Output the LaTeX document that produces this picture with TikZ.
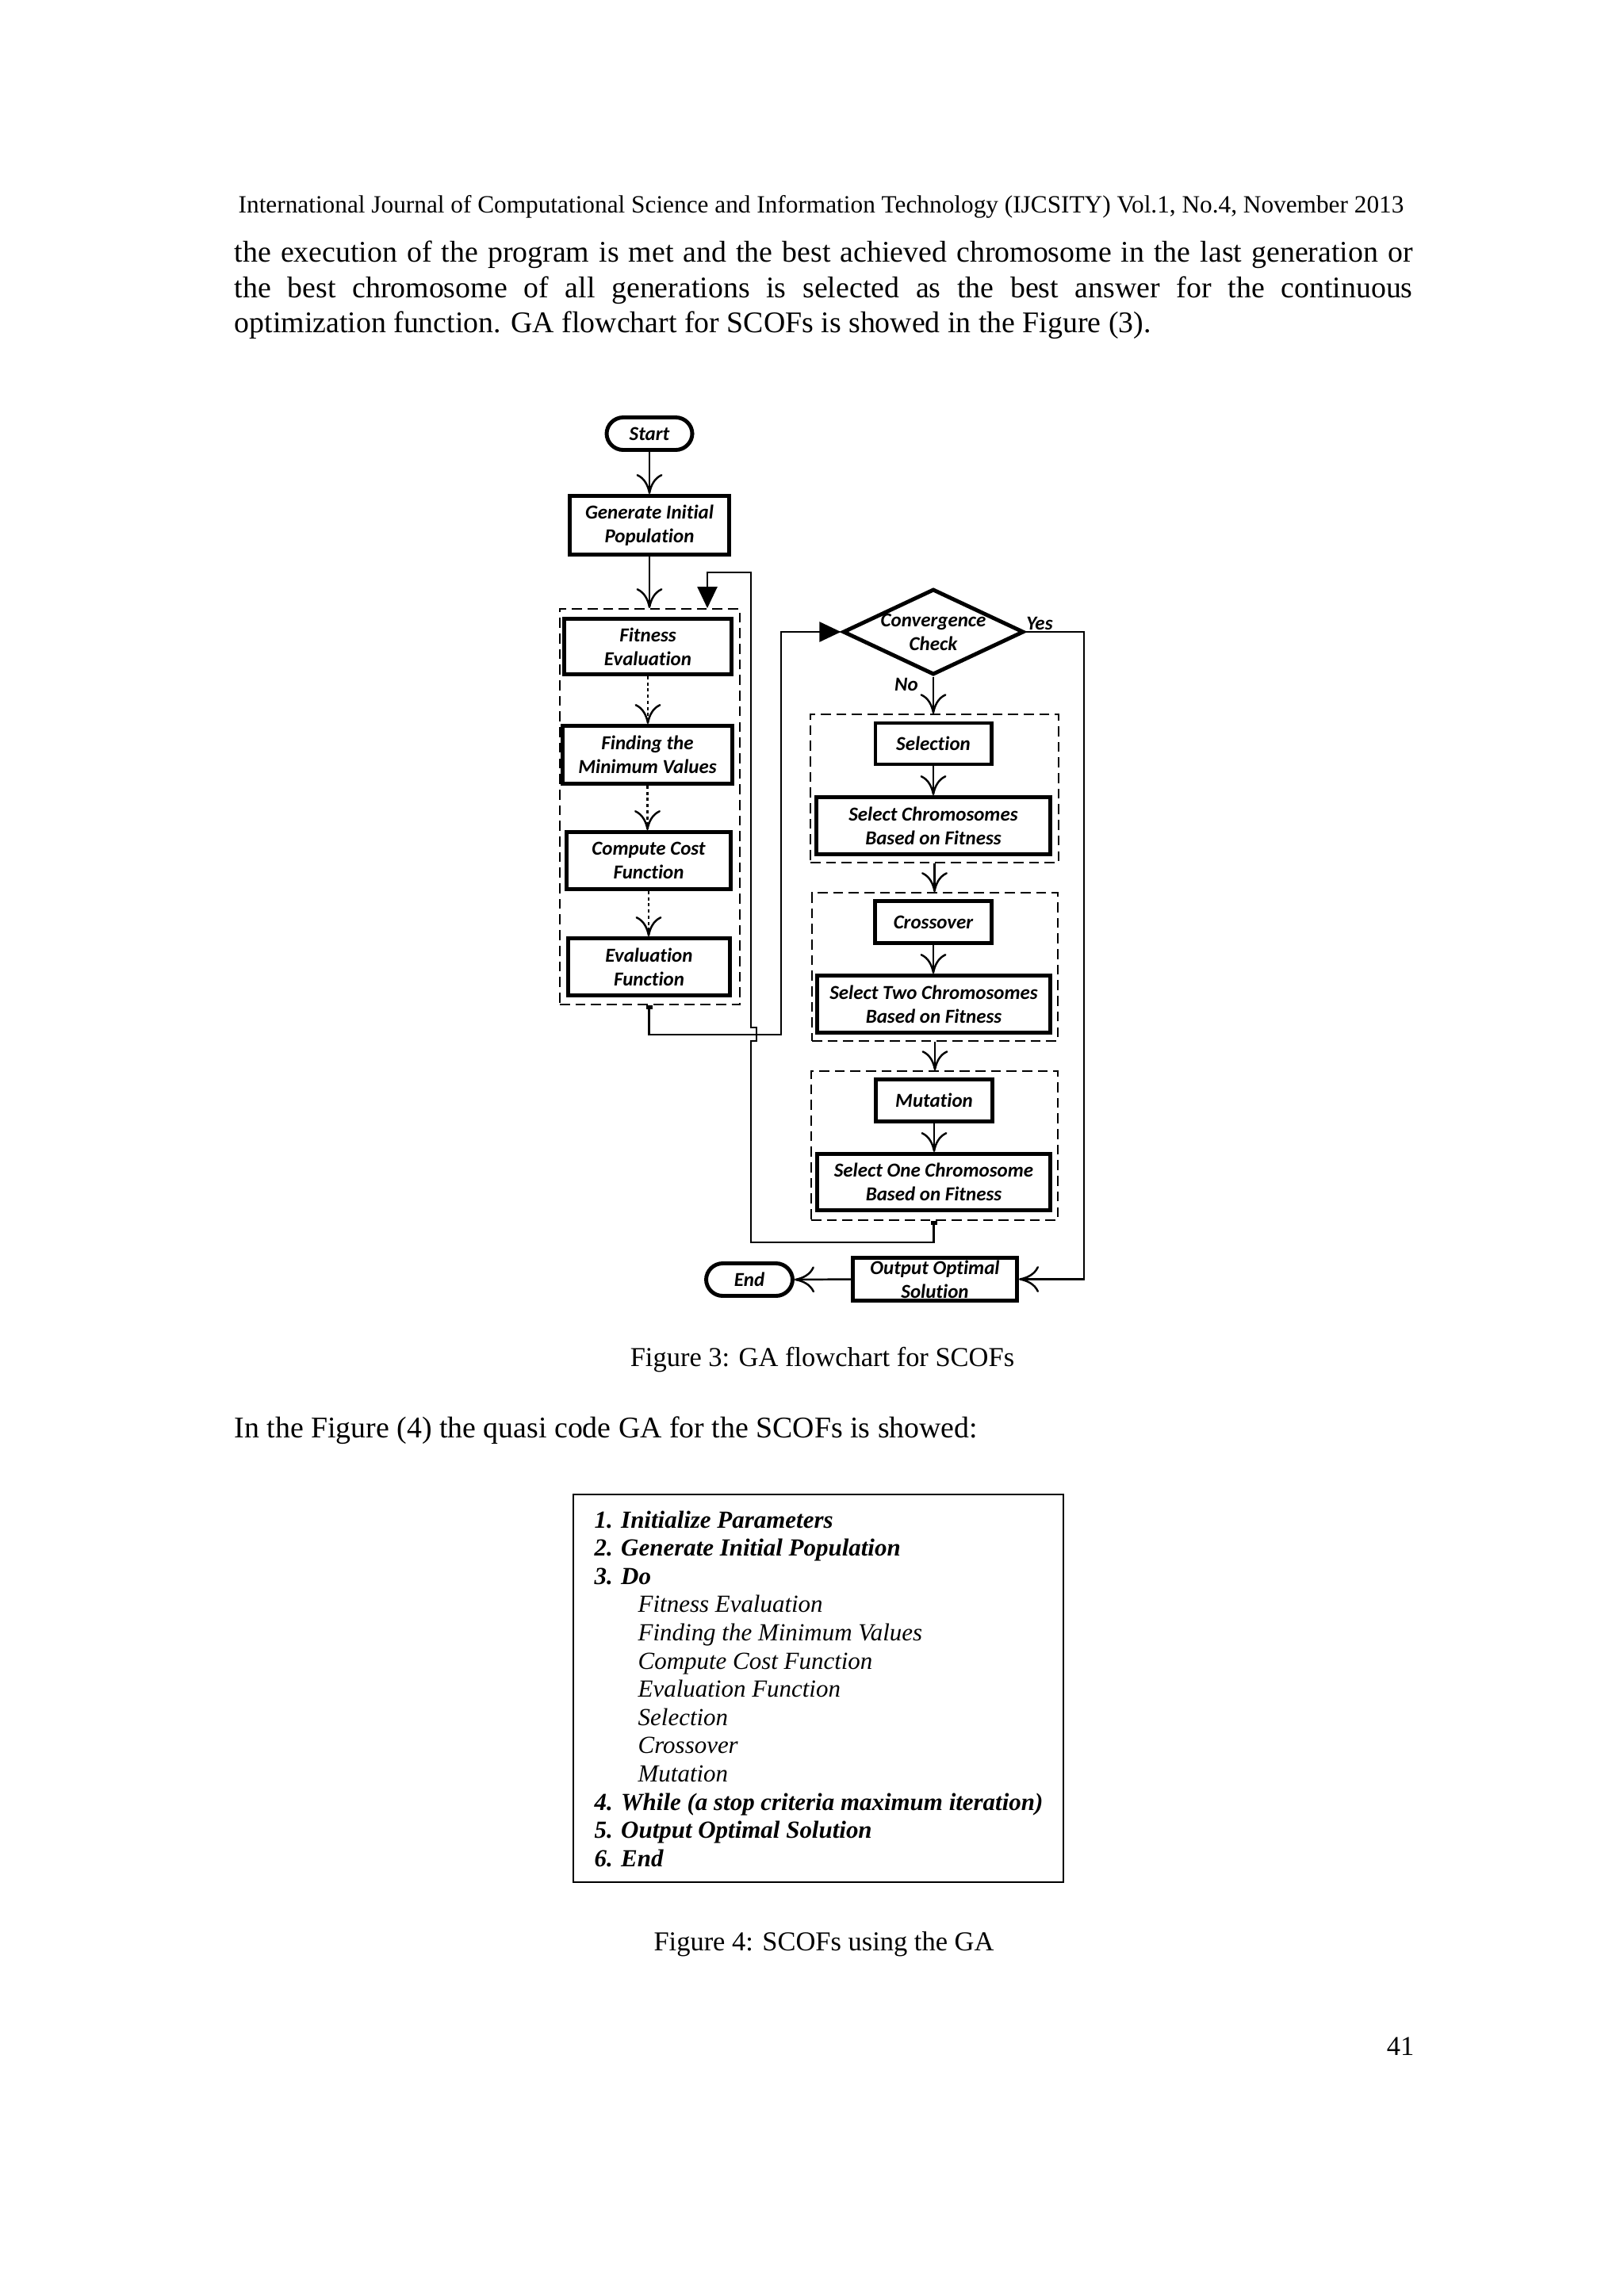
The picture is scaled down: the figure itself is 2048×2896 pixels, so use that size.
\documentclass[tikz,border=0pt]{standalone}
\usepackage{fontspec}
\setmainfont{Liberation Serif}
\newfontfamily\chartfont[Ligatures=NoCommon]{Carlito}
\usepackage{tikz}
\usetikzlibrary{arrows.meta,shapes.geometric,positioning}
\newcommand{\txtbody}{\fontsize{10.76pt}{12.7pt}\selectfont}
\newcommand{\txtcap}{\fontsize{9.8pt}{11.5pt}\selectfont}
\newcommand{\txtcode}{\itshape\fontsize{8.8pt}{10.1pt}\selectfont}
\tikzstyle{centered} = [align=center, text centered, inner sep=0pt, font=\chartfont\bfseries\itshape\fontsize{7.1pt}{8.5pt}\selectfont]
\tikzstyle{process} = [centered, draw, line width=1.4pt]
\tikzstyle{terminal} = [process, rounded corners=0.21cm, minimum width=1.08cm, minimum height=0.41cm]
\tikzstyle{decision} = [draw, diamond, line width=1.4pt, inner sep=0pt, minimum width=2.28cm, minimum height=1.08cm]
\tikzstyle{group} = [draw, dash pattern=on 3.6pt off 2pt, line width=0.45pt, inner sep=0pt]
\tikzstyle{flow} = [line width=0.7pt, -{Computer Modern Rightarrow[length=0.25cm,width=0.33cm]}]
\tikzstyle{dotflow} = [flow, dash pattern=on 1.1pt off 1.1pt]
\tikzstyle{loop} = [line width=0.7pt, {Square[length=0.05cm,width=0.08cm]}-{Triangle[length=0.27cm,width=0.25cm]}]
\tikzstyle{page} = [inner sep=0pt, anchor=base west]

\begin{document}
\begin{tikzpicture}[x=0.01cm,y=-0.01cm]
    \useasboundingbox (0,0) rectangle (2048,2896);
    \fill[white] (0,0) rectangle (2048,2896);

    % page text
    \node[page, font=\fontsize{8.9pt}{10.5pt}\selectfont] (header) at (300,268) {International Journal of Computational Science and Information Technology (IJCSITY) Vol.1, No.4, November 2013};
    \node[page, font=\txtbody] (para1) at (295,330) {\makebox[14.85cm][s]{the execution of the program is met and the best achieved chromosome in the last generation or}};
    \node[page, font=\txtbody] (para2) at (295,375) {\makebox[14.85cm][s]{the best chromosome of all generations is selected as the best answer for the continuous}};
    \node[page, font=\txtbody] (para3) at (295,419) {optimization function. GA flowchart for SCOFs is showed in the Figure (3).};

    % left column
    \node[terminal] (start) at (819,547) {Start};
    \node[process, minimum width=2.01cm, minimum height=0.74cm] (init) at (819,662.5) {Generate Initial\\Population};
    \node[group, minimum width=2.27cm, minimum height=4.99cm] (grpA) at (819.5,1017.5) {};
    \node[process, minimum width=2.11cm, minimum height=0.70cm] (fit) at (817,815.5) {Fitness\\Evaluation};
    \node[process, minimum width=2.14cm, minimum height=0.73cm] (findmin) at (816.5,952) {Finding the\\Minimum Values};
    \node[process, minimum width=2.07cm, minimum height=0.72cm] (cost) at (818,1085.5) {Compute Cost\\Function};
    \node[process, minimum width=2.04cm, minimum height=0.72cm] (evalf) at (818.5,1219.5) {Evaluation\\Function};

    % right column
    \node[decision, label={[centered]center:Convergence\\Check}] (conv) at (1177,797) {};
    \node[centered, anchor=base] (yes) at (1311,794) {Yes};
    \node[centered, anchor=base] (no) at (1143,871) {No};
    \node[group, minimum width=3.13cm, minimum height=1.87cm] (grpB) at (1178.5,994.5) {};
    \node[process, minimum width=1.46cm, minimum height=0.52cm] (sel) at (1177,938) {Selection};
    \node[process, minimum width=2.95cm, minimum height=0.72cm] (selc) at (1177,1041.5) {Select Chromosomes\\Based on Fitness};
    \node[group, minimum width=3.10cm, minimum height=1.87cm] (grpC) at (1179,1219.5) {};
    \node[process, minimum width=1.47cm, minimum height=0.53cm] (cross) at (1177,1163) {Crossover};
    \node[process, minimum width=2.94cm, minimum height=0.72cm] (selt) at (1177.5,1266.5) {Select Two Chromosomes\\Based on Fitness};
    \node[group, minimum width=3.11cm, minimum height=1.88cm] (grpD) at (1178.5,1445) {};
    \node[process, minimum width=1.47cm, minimum height=0.53cm] (mut) at (1178,1388) {Mutation};
    \node[process, minimum width=2.94cm, minimum height=0.71cm] (selo) at (1177.5,1491) {Select One Chromosome\\Based on Fitness};
    \node[process, minimum width=2.07cm, minimum height=0.54cm] (out) at (1179,1613.5) {Output Optimal\\Solution};
    \node[terminal, minimum width=1.09cm] (end) at (945,1614) {End};

    \coordinate (evalR) at (985,1305);
    \coordinate (loopB) at (947,1567);
    \coordinate (loopT) at (892,722);
    \coordinate (yesR) at (1367,797);

    \draw[flow] (start) -- (init);
    \draw[flow] (init.south) -- (init.south |- grpA.north);
    \foreach \from/\to in {fit/findmin,findmin/cost,cost/evalf}
      \draw[dotflow] (\from.south) -- (\from.south |- \to.north);
    \foreach \from/\to in {sel/selc,cross/selt,mut/selo,grpB/grpC,grpC/grpD}
      \draw[flow] (\from.south) -- (\from.south |- \to.north);
    \draw[flow] (conv.south) -- (conv.south |- grpB.north);
    \draw[flow] (conv.east) -- (yesR) |- (out.east);
    \draw[flow] (out.west) -- (end.east);
    \draw[loop] (evalf.south |- grpA.south) |- (evalR) |- (conv.west);
    \draw[loop] (selo.south |- grpD.south) |- (loopB) -- (947,1313) -- ++(7,0) -- ++(0,-17) -- ++(-7,0) |- (loopT) -- (loopT |- grpA.north);

    % captions and pseudo code
    \node[page, anchor=base, font=\txtcap] (cap3) at (1037,1723) {Figure 3: GA flowchart for SCOFs};
    \node[page, font=\txtbody] (intro) at (295,1813) {In the Figure (4) the quasi code GA for the SCOFs is showed:};
    \node[draw, line width=0.45pt, anchor=north west, inner sep=0pt, minimum width=6.18cm, minimum height=4.89cm] (codebox) at (722,1884) {};
    \foreach \dx/\wt/\txt [count=\i from 0] in {0/\bfseries/1. Initialize Parameters,
        0/\bfseries/2. Generate Initial Population, 0/\bfseries/3. Do,
        55/\mdseries/Fitness Evaluation, 55/\mdseries/Finding the Minimum Values,
        55/\mdseries/Compute Cost Function, 55/\mdseries/Evaluation Function,
        55/\mdseries/Selection, 55/\mdseries/Crossover, 55/\mdseries/Mutation,
        0/\bfseries/4. While (a stop criteria maximum iteration),
        0/\bfseries/5. Output Optimal Solution, 0/\bfseries/6. End}
      \node[page, font=\txtcode\wt] (code\i) at ({749+\dx},{1927+35.6*\i}) {\txt};
    \node[page, anchor=base, font=\txtcap] (cap4) at (1039,2460) {Figure 4: SCOFs using the GA};
    \node[page, anchor=base east, font=\txtcap] (pagenum) at (1784,2592) {41};

\end{tikzpicture}
\end{document}
